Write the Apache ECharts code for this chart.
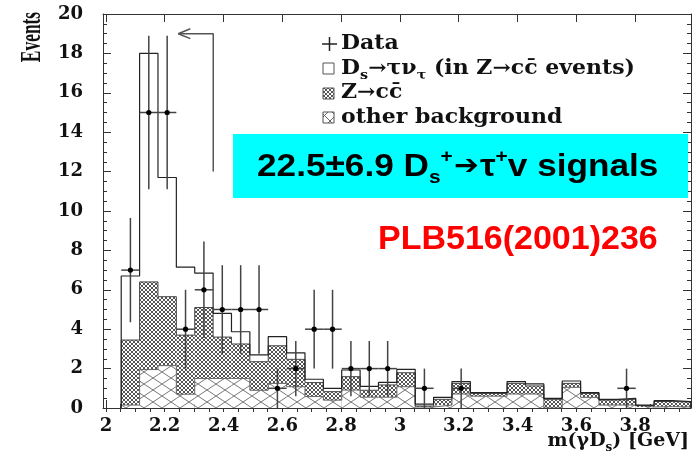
<!DOCTYPE html>
<html>
<head>
<meta charset="utf-8">
<script src="https://cdn.jsdelivr.net/npm/echarts@6/dist/echarts.min.js"></script>
<style>
  html, body { margin: 0; padding: 0; background: #fff; }
  #chart { width: 697px; height: 457px; }
</style>
</head>
<body>
<div id="chart"></div>
<script>
// histogram binning (GeV)
const binStart = 2.052
const binWidth = 0.0625

// stacked components, per bin
const otherBg = [0.15, 1.95, 2.15, 0.7, 1.5, 1.5, 1.5, 0.9, 1.25, 1.08, 0.58, 0.4, 0.91, 0.55, 0.55, 1.08,
  0.05, 0.15, 0.71, 0.6, 0.6, 0.71, 0.71, 0, 1.05, 0.54, 0.15, 0.15, 0.05, 0.07, 0.05]
const zccBg = [3.3, 4.45, 3.5, 3.0, 3.6, 2.1, 1.75, 1.45, 1.91, 1.39, 0.71, 0.43, 0.68, 0.35, 0.62, 0.71,
  0.05, 0.29, 0.54, 0.14, 0.14, 0.54, 0.41, 0.44, 0.2, 0.2, 0.25, 0.3, 0.07, 0.26, 0.25]
const signal = [3.25, 11.6, 6.05, 3.45, 1.75, 1.2, 0.62, 0.35, 0.46, 0.33, 0.17, 0.17, 0.34, 0.2, 0.13, 0.17,
  0.1, 0.1, 0.09, 0.04, 0.04, 0.09, 0.1, 0.05, 0.12, 0.04, 0.04, 0.04, 0.03, 0.04, 0.02]

// data points
const dataBin = [0, 1, 2, 3, 4, 5, 6, 7, 8, 9, 10, 11, 12, 13, 14, 16, 18, 27]
const dataCount = [7, 15, 15, 4, 6, 5, 5, 5, 1, 2, 4, 4, 2, 2, 2, 1, 1, 1]
const dataErr = [2.65, 3.9, 3.9, 2, 2.45, 2.25, 2.25, 2.25, 1, 1.4, 2, 2, 1.4, 1.4, 1.4, 1, 1, 1]

const xTickLabels = [2, 2.2, 2.4, 2.6, 2.8, 3, 3.2, 3.4, 3.6, 3.8]

// cut arrow
const cutLine = [[2.365, 12], [2.365, 19], [2.246, 19]]
const cutHead = [[2.287, 19.25], [2.246, 19], [2.287, 18.75]]

function makePattern (w, h, color, lw) {
  const c = document.createElement('canvas')
  c.width = w
  c.height = h
  const ctx = c.getContext('2d')
  ctx.fillStyle = '#fff'
  ctx.fillRect(0, 0, w, h)
  ctx.strokeStyle = color
  ctx.lineWidth = lw
  ctx.beginPath()
  ctx.moveTo(0, 0); ctx.lineTo(w, h)
  ctx.moveTo(0, h); ctx.lineTo(w, 0)
  ctx.stroke()
  return { image: c, repeat: 'repeat' }
}
const densePat = makePattern(4, 4, '#555', 1)
const widePat = makePattern(18, 12, '#777', 1)

var histData = otherBg.map((a, i) => {
  var x0 = binStart + i * binWidth
  var b = a + zccBg[i]
  return [x0, x0 + binWidth, a, b, b + signal[i]]
})

function stepLine (col) {
  var pts = [[histData[0][0], 0]]
  histData.forEach(d => pts.push([d[0], d[col]]))
  pts.push([histData[histData.length - 1][1], 0])
  return pts
}

var minorX = []
for (var t = 2.0; t < 3.99; t += 0.05) minorX.push(+t.toFixed(2))

var pointsData = dataBin.map((b, i) => [binStart + (b + 0.5) * binWidth, dataCount[i], dataErr[i]])

const serif = 'DejaVu Serif'
const lineCol = '#333'

var chart = echarts.init(document.getElementById('chart'))

var xBase = {
  type: 'value', min: 1.99, max: 3.99,
  axisLine: { show: true, onZero: false, lineStyle: { color: lineCol, width: 1 } },
  splitLine: { show: false },
  axisLabel: { show: false },
  axisTick: { show: true, inside: true, length: 8, customValues: xTickLabels, lineStyle: { color: lineCol } }
}
var yBase = {
  type: 'value', min: 0, max: 20, interval: 2,
  axisLine: { show: true, onZero: false, lineStyle: { color: lineCol, width: 1 } },
  splitLine: { show: false },
  axisLabel: { show: false },
  axisTick: { show: true, inside: true, length: 8, lineStyle: { color: lineCol } },
  minorTick: { show: true, splitNumber: 4, length: 4, lineStyle: { color: lineCol } }
}

var legendRich = {
  a: { fontFamily: serif, fontWeight: 'bold', fontSize: 20, fill: '#111', lineHeight: 26, verticalAlign: 'middle' },
  s: { fontFamily: serif, fontWeight: 'bold', fontSize: 13, fill: '#111', lineHeight: 14, verticalAlign: 'bottom' }
}

var option = {
  animation: false,
  grid: { left: 103, right: 6, top: 14, bottom: 49 },
  xAxis: [
    Object.assign({}, xBase, {
      position: 'bottom',
      axisLabel: {
        show: true, customValues: xTickLabels, margin: 9,
        fontFamily: serif, fontWeight: 'bold', fontSize: 18, color: '#111',
        formatter: v => String(v)
      }
    }),
    Object.assign({}, xBase, { position: 'top' }),
    Object.assign({}, xBase, {
      position: 'bottom', axisLine: { show: false },
      axisTick: { show: true, inside: true, length: 4, customValues: minorX, lineStyle: { color: lineCol } }
    }),
    Object.assign({}, xBase, {
      position: 'top', axisLine: { show: false },
      axisTick: { show: true, inside: true, length: 4, customValues: minorX, lineStyle: { color: lineCol } }
    })
  ],
  yAxis: [
    Object.assign({}, yBase, {
      position: 'left',
      axisLabel: { show: true, margin: 20, fontFamily: serif, fontWeight: 'bold', fontSize: 18, color: '#111' }
    }),
    Object.assign({}, yBase, { position: 'right' })
  ],
  series: [
    {
      type: 'custom',
      xAxisIndex: 0, yAxisIndex: 0,
      data: histData,
      encode: { x: [0, 1], y: [4] },
      renderItem: function (params, api) {
        var x0 = api.value(0), x1 = api.value(1)
        var levels = [0, api.value(2), api.value(3), api.value(4)]
        var fills = [widePat, densePat, '#fff']
        var children = []
        for (var k = 0; k < 3; k++) {
          var tl = api.coord([x0, levels[k + 1]])
          var br = api.coord([x1, levels[k]])
          children.push({
            type: 'rect',
            shape: { x: tl[0], y: tl[1], width: br[0] - tl[0], height: br[1] - tl[1] },
            style: { fill: fills[k] }
          })
        }
        return { type: 'group', children: children }
      },
      z: 1
    },
    {
      type: 'line', step: 'end', data: stepLine(2), symbol: 'none', silent: true,
      lineStyle: { color: '#666', width: 1 }, z: 2
    },
    {
      type: 'line', step: 'end', data: stepLine(3), symbol: 'none', silent: true,
      lineStyle: { color: '#444', width: 1 }, z: 2
    },
    {
      type: 'line', step: 'end', data: stepLine(4), symbol: 'none', silent: true,
      lineStyle: { color: '#222', width: 1.2 }, z: 3
    },
    {
      type: 'custom',
      data: pointsData,
      encode: { x: 0, y: 1 },
      renderItem: function (params, api) {
        var x = api.value(0), y = api.value(1), e = api.value(2)
        var lo = api.coord([x, Math.max(0, y - e)])
        var hi = api.coord([x, y + e])
        var l = api.coord([x - binWidth / 2, y])
        var r = api.coord([x + binWidth / 2, y])
        var stroke = { stroke: '#444', lineWidth: 1.5 }
        return {
          type: 'group',
          children: [
            { type: 'line', shape: { x1: lo[0], y1: lo[1], x2: hi[0], y2: hi[1] }, style: stroke },
            { type: 'line', shape: { x1: l[0], y1: l[1], x2: r[0], y2: r[1] }, style: stroke },
            { type: 'circle', shape: { cx: l[0] / 2 + r[0] / 2, cy: l[1], r: 2.6 }, style: { fill: '#000' } }
          ]
        }
      },
      z: 5
    },
    {
      type: 'line', data: cutLine, symbol: 'none', silent: true,
      lineStyle: { color: '#555', width: 1.5 }, z: 4
    },
    {
      type: 'line', data: cutHead, symbol: 'none', silent: true,
      lineStyle: { color: '#555', width: 1.5 }, z: 4
    }
  ],
  graphic: [
    {
      type: 'text', x: 32, y: 37, rotation: Math.PI / 2, scaleX: 0.58,
      style: {
        text: 'Events', font: 'bold 30px "Liberation Serif"', fill: '#111',
        textAlign: 'center', textVerticalAlign: 'middle'
      }
    },
    {
      type: 'text', x: 689, y: 441,
      style: {
        text: '{a|m(γD}{s|s}{a|) [GeV]}', textAlign: 'right', textVerticalAlign: 'middle',
        rich: {
          a: { fontFamily: serif, fontWeight: 'bold', fontSize: 19, fill: '#111', lineHeight: 26, verticalAlign: 'middle' },
          s: { fontFamily: serif, fontWeight: 'bold', fontSize: 12, fill: '#111', lineHeight: 14, verticalAlign: 'bottom' }
        }
      }
    },
    // legend
    { type: 'line', shape: { x1: 322, y1: 44, x2: 337, y2: 44 }, style: { stroke: '#222', lineWidth: 1.5 } },
    { type: 'line', shape: { x1: 329.5, y1: 37, x2: 329.5, y2: 51 }, style: { stroke: '#222', lineWidth: 1.5 } },
    { type: 'rect', shape: { x: 323, y: 63, width: 11, height: 11 }, style: { fill: '#fff', stroke: '#555', lineWidth: 1 } },
    { type: 'rect', shape: { x: 323, y: 88, width: 11, height: 11 }, style: { fill: densePat, stroke: '#555', lineWidth: 1 } },
    { type: 'rect', shape: { x: 323, y: 112, width: 11, height: 11 }, style: { fill: makePattern(11, 11, '#666', 1), stroke: '#555', lineWidth: 1 } },
    {
      type: 'text', x: 341, y: 44, scaleX: 1.1,
      style: { text: '{a|Data}', textVerticalAlign: 'middle', rich: legendRich }
    },
    {
      type: 'text', x: 341, y: 69, scaleX: 1.1,
      style: { text: '{a|D}{s|s}{a|→τν}{s|τ}{a| (in Z→cc\u0304 events)}', textVerticalAlign: 'middle', rich: legendRich }
    },
    {
      type: 'text', x: 341, y: 93, scaleX: 1.1,
      style: { text: '{a|Z→cc\u0304}', textVerticalAlign: 'middle', rich: legendRich }
    },
    {
      type: 'text', x: 341, y: 118, scaleX: 1.1,
      style: { text: '{a|other background}', textVerticalAlign: 'middle', rich: legendRich }
    },
    // annotation boxes
    { type: 'rect', shape: { x: 233, y: 134, width: 455, height: 64 }, style: { fill: '#00FFFF' }, z: 10 },
    {
      type: 'text', x: 257, y: 167, z: 11, scaleX: 1.1,
      style: {
        text: '{a|22.5±6.9 D}{s|s}{p|+}{r|➔}{a|τ}{p|+}{a|v signals}', textVerticalAlign: 'middle',
        rich: {
          a: { fontFamily: 'Liberation Sans', fontWeight: 'bold', fontSize: 32, fill: '#000', lineHeight: 40, verticalAlign: 'middle' },
          r: { fontFamily: 'DejaVu Sans', fontWeight: 'bold', fontSize: 27, fill: '#000', lineHeight: 40, verticalAlign: 'middle', padding: [0, 1, 0, 1] },
          s: { fontFamily: 'Liberation Sans', fontWeight: 'bold', fontSize: 19, fill: '#000', lineHeight: 20, verticalAlign: 'bottom' },
          p: { fontFamily: 'Liberation Sans', fontWeight: 'bold', fontSize: 19, fill: '#000', lineHeight: 22, verticalAlign: 'top' }
        }
      }
    },
    {
      type: 'text', x: 378, y: 240, z: 11,
      style: { text: 'PLB516(2001)236', font: 'bold 34px "Liberation Sans"', fill: '#FF0000', textVerticalAlign: 'middle' }
    }
  ]
}
chart.setOption(option)
</script>
</body>
</html>
